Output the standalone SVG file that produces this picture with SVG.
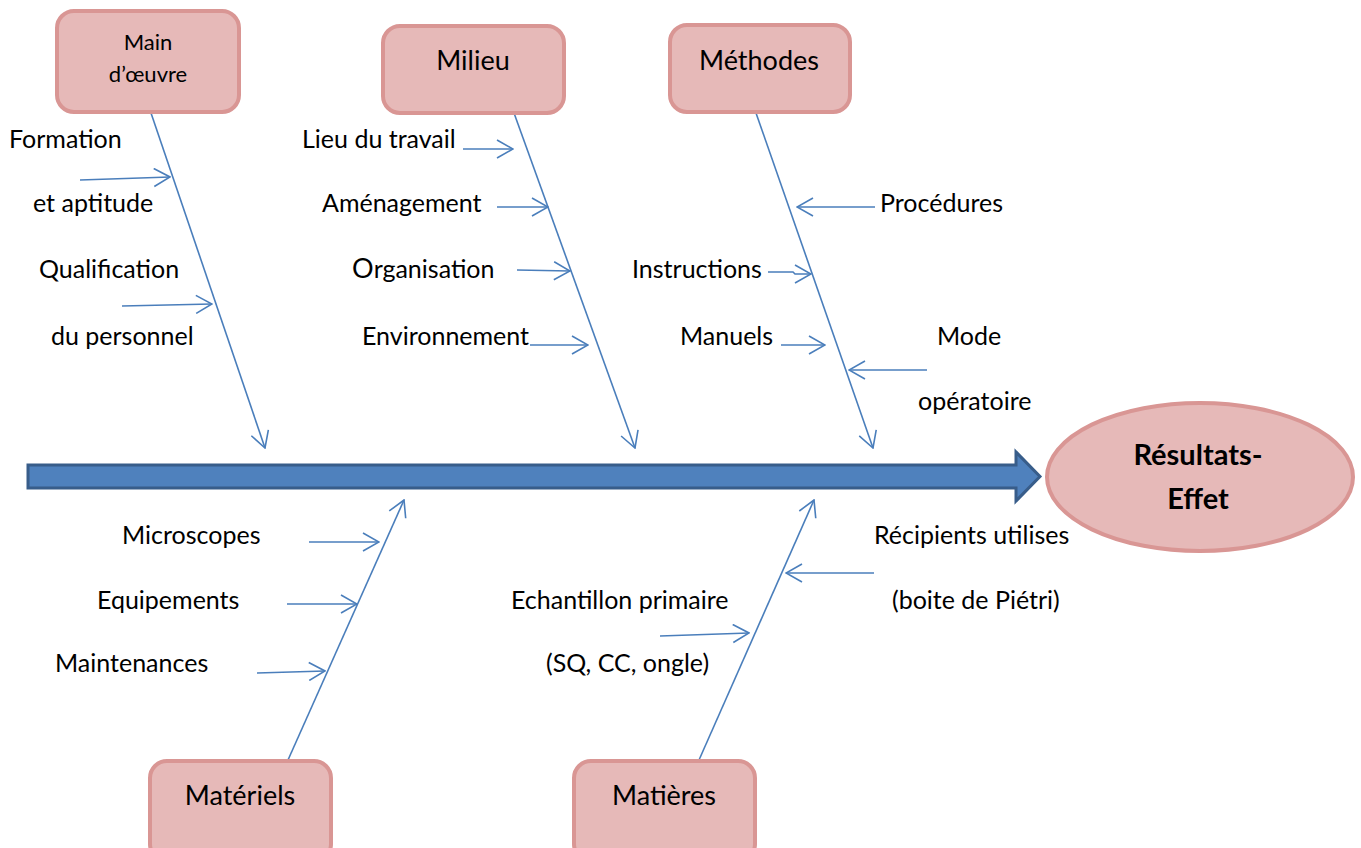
<svg xmlns="http://www.w3.org/2000/svg" width="1361" height="848" viewBox="0 0 1361 848">
<style>
.box{fill:#e6b9b8;stroke:#d99694;stroke-width:4}
.t{font-family:Lato,"Liberation Sans",sans-serif;font-size:25px;fill:#000}
.c{text-anchor:middle}
.h{font-size:27px}
.b{font-weight:bold;font-size:29px}
.ln{stroke:#4a7ebb;stroke-width:1.6;fill:none;marker-end:url(#ah)}
</style>
<defs>
<marker id="ah" viewBox="0 0 18 20" refX="17" refY="10" markerWidth="18" markerHeight="20" markerUnits="userSpaceOnUse" orient="auto">
<path d="M1,1 L17,10 L1,19" fill="none" stroke="#4a7ebb" stroke-width="1.6"/>
</marker>
</defs>
<rect width="1361" height="848" fill="#fff"/>
<g id="spine">
<polygon points="28,465 1016,465 1016,452 1040,476.5 1016,501 1016,488 28,488" fill="#4f81bd" stroke="#385d8a" stroke-width="3"/>
</g>
<g id="connectors">
<line class="ln" x1="151" y1="113" x2="265" y2="448"/>
<line class="ln" x1="80" y1="180" x2="170" y2="177"/>
<line class="ln" x1="122" y1="306" x2="212" y2="304"/>
<line class="ln" x1="514" y1="113" x2="635" y2="448"/>
<line class="ln" x1="463" y1="149" x2="513" y2="149"/>
<line class="ln" x1="497" y1="207" x2="548" y2="207"/>
<line class="ln" x1="517" y1="270" x2="570" y2="271"/>
<line class="ln" x1="530" y1="345" x2="588" y2="345"/>
<line class="ln" x1="756" y1="113" x2="873" y2="448"/>
<line class="ln" x1="875" y1="207" x2="797" y2="207"/>
<polyline class="ln" points="768,272 793,272 795,274 811,274"/>
<line class="ln" x1="781" y1="345" x2="825" y2="345"/>
<line class="ln" x1="927" y1="370" x2="849" y2="370"/>
<line class="ln" x1="288" y1="760" x2="404" y2="500"/>
<line class="ln" x1="309" y1="542" x2="379" y2="542"/>
<line class="ln" x1="287" y1="604" x2="357" y2="604"/>
<line class="ln" x1="257" y1="673" x2="325" y2="671"/>
<line class="ln" x1="699" y1="760" x2="814" y2="500"/>
<line class="ln" x1="660" y1="636" x2="749" y2="633"/>
<line class="ln" x1="874" y1="573" x2="786" y2="573"/>
</g>
<g id="main-oeuvre">
<rect class="box" x="57" y="11" width="182" height="101" rx="17"/>
<text class="t c" x="148" y="50" style="font-size:22px">Main</text>
<text class="t c" x="148" y="82" style="font-size:22px">d’œuvre</text>
</g>
<g id="milieu">
<rect class="box" x="383" y="26" width="181" height="87" rx="17"/>
<text class="t c h" x="473" y="70">Milieu</text>
</g>
<g id="methodes">
<rect class="box" x="670" y="25" width="180" height="87" rx="17"/>
<text class="t c h" x="759" y="70">Méthodes</text>
</g>
<g id="materiels">
<rect class="box" x="150" y="761" width="181" height="100" rx="17"/>
<text class="t c h" x="240" y="805">Matériels</text>
</g>
<g id="matieres">
<rect class="box" x="574" y="761" width="181" height="100" rx="17"/>
<text class="t c h" x="664" y="805">Matières</text>
</g>
<g id="resultats">
<ellipse class="box" cx="1200" cy="477" rx="153" ry="74"/>
<text class="t c b" x="1198" y="465">Résultats-</text>
<text class="t c b" x="1198" y="509">Effet</text>
</g>
<g id="labels">
<text class="t" x="9" y="148">Formation</text>
<text class="t" x="33" y="212">et aptitude</text>
<text class="t" x="39" y="278">Qualification</text>
<text class="t" x="51" y="345">du personnel</text>
<text class="t" x="302" y="148">Lieu du travail</text>
<text class="t" x="322" y="212">Aménagement</text>
<text class="t" x="352" y="278"><tspan style="font-size:27px">O</tspan>rganisation</text>
<text class="t" x="362" y="345">Environnement</text>
<text class="t" x="880" y="212">Procédures</text>
<text class="t" x="632" y="278">Instructions</text>
<text class="t" x="680" y="345">Manuels</text>
<text class="t" x="937" y="345">Mode</text>
<text class="t" x="918" y="410">opératoire</text>
<text class="t" x="122" y="544">Microscopes</text>
<text class="t" x="97" y="609">Equipements</text>
<text class="t" x="55" y="672">Maintenances</text>
<text class="t" x="511" y="609">Echantillon primaire</text>
<text class="t" x="546" y="672">(SQ, CC, ongle)</text>
<text class="t" x="874" y="544">Récipients utilises</text>
<text class="t" x="892" y="609">(boite de Piétri)</text>
</g>
</svg>
